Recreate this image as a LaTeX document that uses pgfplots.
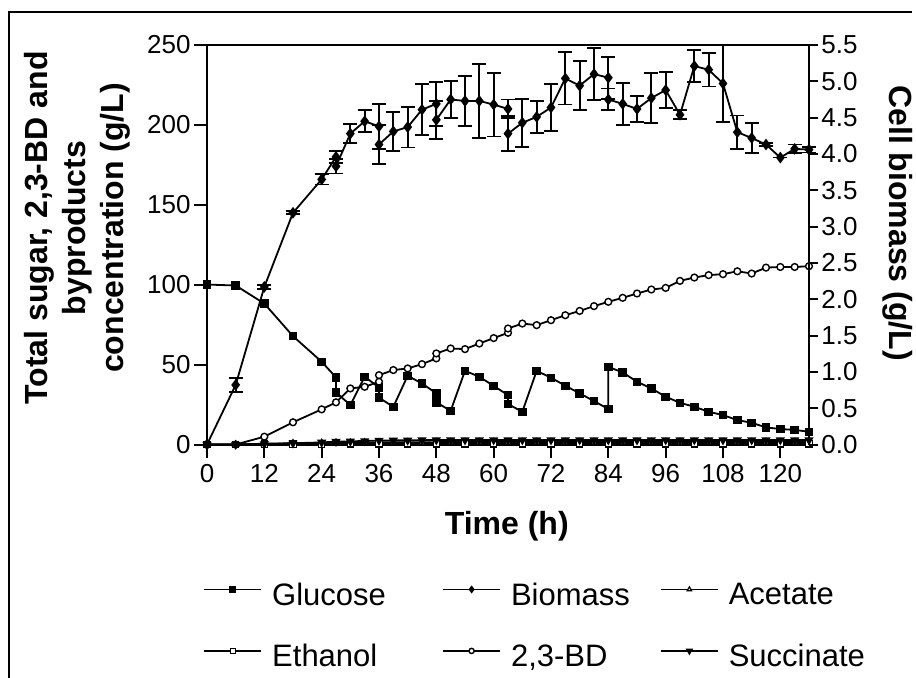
\documentclass[border=0pt]{standalone}
\usepackage{fontspec}
\setmainfont{Liberation Sans}
\usepackage{pgfplots}
\usepackage{pgfplotstable}
\pgfplotsset{compat=1.18}

\pgfplotstableread{
t y
0 100.1
6 99.5
12 88.2
18 67.8
24 51.8
27 42.0
27 32.6
30 24.7
33 42.4
36 35.7
36 29.3
39 23.6
42 43.0
45 38.2
48 32.0
48 26.4
51 21.1
54 46.1
57 42.4
60 36.7
63 30.9
63 25.3
66 20.5
69 46.1
72 41.8
75 36.8
78 32.0
81 27.2
84 22.2
84 48.6
87 45.1
90 39.3
93 35.1
96 29.9
99 26.1
102 23.6
105 20.5
108 18.4
111 15.3
114 13.6
117 10.7
120 9.7
123 9.1
126 8.0
}\glucose

\pgfplotstableread{
t y
0 0
6 0
12 4.9
18 13.9
24 22.0
27 26.4
30 35.1
33 36.1
36 39.3
36 43.4
39 46.6
42 47.6
45 50.3
48 53.9
48 57.0
51 60.1
54 59.7
57 63.2
60 66.6
63 69.9
63 72.6
66 75.7
69 74.7
72 77.8
75 80.9
78 83.6
81 86.6
84 89.3
87 91.8
90 94.5
93 97.0
96 98.0
99 102.4
102 104.5
105 106.0
108 106.6
111 108.4
114 107.0
117 110.7
120 111.1
123 111.1
126 111.6
}\bd

\pgfplotstableread{
t y
0 0
6 0
12 0.5
18 0.8
24 1.0
27 1.2
30 1.2
33 1.3
36 1.3
39 1.4
42 1.4
45 1.4
48 1.5
51 1.5
54 1.5
57 1.5
60 1.5
63 1.5
66 1.5
69 1.5
72 1.5
75 1.5
78 1.5
81 1.5
84 1.5
87 1.5
90 1.5
93 1.5
96 1.5
99 1.5
102 1.5
105 1.5
108 1.5
111 1.5
114 1.5
117 1.5
120 1.5
123 1.5
126 1.5
}\acetate

\pgfplotstableread{
t y
0 0
6 0
12 0.2
18 0.3
24 0.3
30 0.4
36 0.4
42 0.4
48 0.4
54 0.4
60 0.4
66 0.4
72 0.4
78 0.4
84 0.4
90 0.4
96 0.4
102 0.4
108 0.4
114 0.4
120 0.4
126 0.4
}\ethanol

\pgfplotstableread{
t y
0 0
6 0
12 0.3
18 0.8
24 1.3
27 1.8
30 2.0
33 2.2
36 2.5
39 2.6
42 2.6
45 2.7
48 2.8
51 2.8
54 2.8
57 2.8
60 2.8
63 2.8
66 2.8
69 2.8
72 2.8
75 2.8
78 2.8
81 2.8
84 2.8
87 2.8
90 2.8
93 2.8
96 2.8
99 2.8
102 2.8
105 2.8
108 2.8
111 2.8
114 2.8
117 2.8
120 2.8
123 2.8
126 2.8
}\succinate

\pgfplotstableread{
t y e
0 0 0
6 0.82 0.10
12 2.17 0.03
18 3.19 0.02
24 3.65 0.07
27 3.96 0.08
27 3.83 0.10
30 4.28 0.13
33 4.45 0.15
36 4.38 0.31
36 4.13 0.27
39 4.31 0.27
42 4.37 0.28
45 4.61 0.35
48 4.69 0.30
48 4.47 0.26
51 4.75 0.26
54 4.73 0.34
57 4.73 0.51
60 4.68 0.44
63 4.62 0.13
63 4.28 0.24
66 4.43 0.33
69 4.51 0.22
72 4.64 0.32
75 5.04 0.36
78 4.94 0.34
81 5.10 0.36
84 5.05 0.29
84 4.75 0.15
87 4.69 0.29
90 4.62 0.18
93 4.77 0.34
96 4.88 0.25
99 4.54 0.06
102 5.21 0.22
105 5.16 0.23
108 4.97 0.53
111 4.30 0.23
114 4.22 0.21
117 4.13 0.02
120 3.95 0
123 4.07 0.06
126 4.06 0.04
}\biomass

\pgfplotsset{
  common/.style={
    scale only axis, width=301pt, height=199.75pt,
    xmin=0, xmax=126, clip=false,
    axis line style={line width=1pt},
    every tick/.style={line width=1pt, black},
    tick align=outside,
    /pgf/number format/assume math mode=true,
    tick label style={font=\fontsize{13}{15}\selectfont},
  },
  ser/.style={black, line width=0.9pt},
  leg/.style={legend image code/.code={%
      \draw[mark repeat=2, mark phase=2, ##1, mark size=1.3pt, yshift=0.3em]
        plot coordinates {(0pt,0pt) (14.25pt,0pt) (28.5pt,0pt)};}},
}

\begin{document}
\begin{tikzpicture}
\useasboundingbox (-103.5pt,-116.25pt) rectangle (354.5pt,222.25pt);
\draw[line width=1pt] (-99pt,-120pt) -- (-99pt,216.25pt) -- (352.5pt,216.25pt);
\begin{axis}[common,
  ymin=0, ymax=250, ytick={0,50,100,150,200,250},
  xtick={0,12,...,120},
  xtick pos=bottom, ytick pos=left,
  major tick length=6.5pt,
  yticklabel style={inner sep=1.5pt},
  xticklabel style={inner sep=3pt},
  xlabel={Time (h)},
  ylabel={Total sugar, 2,3-BD and\\byproducts\\concentration (g/L)},
  every axis x label/.style={at={(axis description cs:0.498,-0.205)}, anchor=center,
    font=\bfseries\fontsize{16}{19}\selectfont},
  every axis y label/.style={at={(axis description cs:-0.216,0.542)}, anchor=center,
    rotate=90, align=center, font=\bfseries\fontsize{16}{19}\selectfont},
  leg,
  legend columns=3,
  legend cell align=left,
  legend style={at={(axis description cs:-0.0066,-0.345)}, anchor=north west,
    draw=none, fill=none, inner sep=0pt, row sep=18pt,
    font=\fontsize{15.5}{18}\selectfont,
    nodes={inner sep=0pt},
    /tikz/every odd column/.append style={column sep=5pt}},
]
\addplot[ser, mark=square*, mark size=1.65pt] table[x=t,y=y] {\glucose};
\addlegendentry{\makebox[85pt][l]{Glucose}}
\addlegendimage{ser, mark=diamond*, mark size=2.2pt}
\addlegendentry{\makebox[74.5pt][l]{Biomass}}
\addplot[ser, mark=triangle*, mark size=1.8pt, mark options={fill=white, line width=0.6pt}] table[x=t,y=y] {\acetate};
\addlegendentry{Acetate}
\addplot[ser, mark=square*, mark size=1.6pt, mark options={fill=white, line width=0.6pt}] table[x=t,y=y] {\ethanol};
\addlegendentry{Ethanol}
\addplot[ser, mark=*, mark size=1.7pt, mark options={fill=white, line width=0.7pt}] table[x=t,y=y] {\bd};
\addlegendentry{2,3-BD}
\addplot[ser, mark=triangle*, mark size=1.8pt, mark options={rotate=180}] table[x=t,y=y] {\succinate};
\addlegendentry{Succinate}
\end{axis}
\begin{axis}[common,
  ymin=0, ymax=5.5,
  ytick={0,0.5,1,1.5,2,2.5,3,3.5,4,4.5,5,5.5},
  axis y line*=right, axis x line=none,
  major tick length=4.5pt,
  yticklabel style={inner sep=1.5pt, /pgf/number format/.cd, fixed, fixed zerofill, precision=1},
  ylabel={Cell biomass (g/L)},
  every axis y label/.style={at={(axis description cs:1.148,0.554)}, anchor=center,
    rotate=-90, font=\bfseries\fontsize{16}{19}\selectfont},
]
\addplot[ser, mark=diamond*, mark size=2.2pt,
  error bars/.cd, y dir=both, y explicit,
  error bar style={line width=0.9pt},
  error mark options={rotate=90, line width=0.9pt, mark size=3.5pt}]
  table[x=t,y=y,y error=e] {\biomass};
\end{axis}
\end{tikzpicture}
\end{document}
